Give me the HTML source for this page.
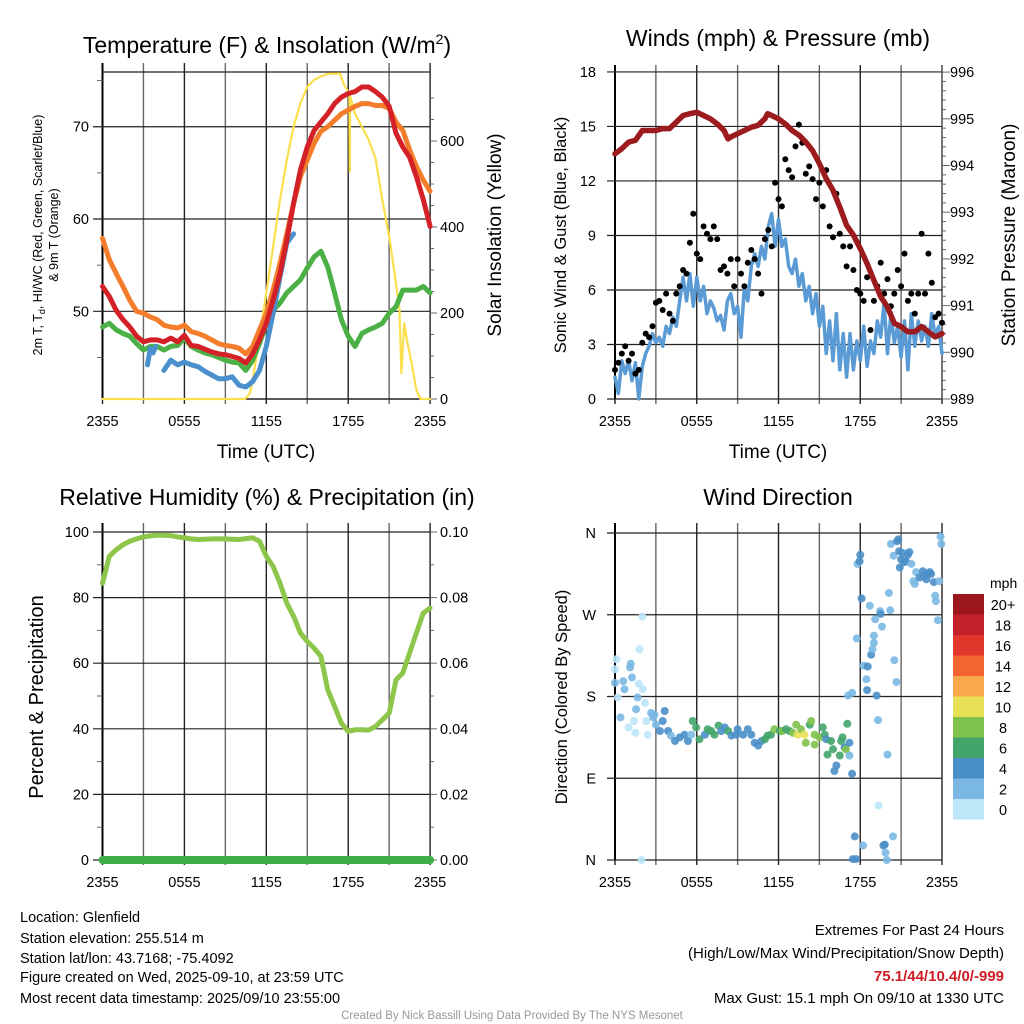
<!DOCTYPE html>
<html><head><meta charset="utf-8"><style>
html,body{margin:0;padding:0;background:#fff}
svg{display:block}
text{font-family:"Liberation Sans",Arial,sans-serif;fill:#000}
</style></head><body>
<svg id="chart" width="1024" height="1024" viewBox="0 0 1024 1024" xmlns="http://www.w3.org/2000/svg">
<rect width="1024" height="1024" fill="#fff"/>
<g id="grid"></g>
<g id="marks"></g>
<g id="labels"></g>

<text x="267" y="53" font-size="23" text-anchor="middle">Temperature (F) &amp; Insolation (W/m<tspan dy="-9" font-size="14">2</tspan><tspan dy="9">)</tspan></text>
<text x="778" y="46" font-size="23" text-anchor="middle">Winds (mph) &amp; Pressure (mb)</text>
<text x="267" y="505" font-size="23" text-anchor="middle">Relative Humidity (%) &amp; Precipitation (in)</text>
<text x="778" y="505" font-size="23" text-anchor="middle">Wind Direction</text>

<text transform="translate(42,235) rotate(-90)" font-size="12.5" text-anchor="middle">2m T, T<tspan font-size="9" dy="3">d</tspan><tspan dy="-3">, HI/WC (Red, Green, Scarlet/Blue)</tspan></text>
<text transform="translate(58,235) rotate(-90)" font-size="12.5" text-anchor="middle">&amp; 9m T (Orange)</text>
<text transform="translate(501,235) rotate(-90)" font-size="19" text-anchor="middle">Solar Insolation (Yellow)</text>
<text transform="translate(566,235) rotate(-90)" font-size="16.5" text-anchor="middle">Sonic Wind &amp; Gust (Blue, Black)</text>
<text transform="translate(1015,235) rotate(-90)" font-size="19" text-anchor="middle">Station Pressure (Maroon)</text>
<text transform="translate(43,697) rotate(-90)" font-size="20" text-anchor="middle">Percent &amp; Precipitation</text>
<text transform="translate(567,697) rotate(-90)" font-size="16.5" text-anchor="middle">Direction (Colored By Speed)</text>
<text x="266" y="458" font-size="19" text-anchor="middle">Time (UTC)</text>
<text x="778" y="458" font-size="19" text-anchor="middle">Time (UTC)</text>

<text x="20" y="922" font-size="14.5">Location: Glenfield</text>
<text x="20" y="943" font-size="14.5">Station elevation: 255.514 m</text>
<text x="20" y="963" font-size="14.5">Station lat/lon: 43.7168; -75.4092</text>
<text x="20" y="982" font-size="14.5">Figure created on Wed, 2025-09-10, at 23:59 UTC</text>
<text x="20" y="1003" font-size="14.5">Most recent data timestamp: 2025/09/10 23:55:00</text>
<text x="1004" y="935" font-size="15" text-anchor="end">Extremes For Past 24 Hours</text>
<text x="1004" y="958" font-size="15" text-anchor="end">(High/Low/Max Wind/Precipitation/Snow Depth)</text>
<text x="1004" y="981" font-size="15" font-weight="bold" text-anchor="end" style="fill:#d01c24">75.1/44/10.4/0/-999</text>
<text x="1004" y="1003" font-size="15" text-anchor="end">Max Gust: 15.1 mph On 09/10 at 1330 UTC</text>
<text x="512" y="1019" font-size="11.5" text-anchor="middle" style="fill:#999">Created By Nick Bassill Using Data Provided By The NYS Mesonet</text>
<text x="990" y="588" font-size="14">mph</text>
</svg>
<script>
// ---------- data ----------
const halfHours = [0,0.5,1,1.5,2,2.5,3,3.5,4,4.5,5,5.5,6,6.5,7,7.5,8,8.5,9,9.5,10,10.5,11,11.5,12,12.5,13,13.5,14,14.5,15,15.5,16,16.5,17,17.5,18,18.5,19,19.5,20,20.5,21,21.5,22,22.5,23,23.5,24];
const temp2m = [52.7,51.6,50.1,49.1,48.3,47.3,46.7,46.9,46.9,46.7,47.1,46.7,47.4,46.3,46.2,45.9,45.6,45.4,45.3,45.1,44.9,44.4,45.4,46.9,48.7,51.2,54.1,57.7,61.7,65.3,67.8,69.6,70.5,71.4,72.5,73.2,73.6,73.8,74.3,74.3,73.8,73.2,72.2,69.3,67.8,66.7,64.6,62.1,59.2];
const temp9m = [57.9,55.6,54.1,52.7,51.2,50,49.8,49.4,49.1,48.5,48.3,48.2,48.5,47.8,47.6,47.3,46.9,46.5,46.3,46.2,46,45.4,46.2,48,49.8,52.3,55.2,58.4,61.7,64.6,66.4,68.2,69.5,70,70.7,71.4,71.8,72.2,72.5,72.5,72.3,72.3,72,70.5,69.6,67.5,65.7,64.2,63];
const dewPoint = [48.3,48.7,48,47.6,47.3,46.5,45.8,46.2,46.2,45.8,46.2,46.3,47.1,46.2,45.8,45.5,45.3,45,44.7,44.5,44.4,43.6,44.7,46.5,48.7,50.1,50.9,52,52.7,53.4,54.7,55.9,56.5,54.8,52,49.1,47.3,46.2,47.6,48,48.3,48.7,49.8,50.5,52.3,52.3,52.3,52.7,52];
const chillHours = [3.3,3.5,3.7,3.9,4.1,4.5,5,5.5,6,6.5,7,7.5,8,8.5,9,9.5,10,10.5,11,11.5,12,12.5,13,13.5,14];
const windChill = [44.2,46,45.5,46.2,null,43.6,44.7,44.2,44.5,44.2,44,43.5,43.1,42.7,42.7,42.9,42,41.8,42.4,43.6,46.2,49.8,53.7,57.4,58.4];
const solarHours = [0,10.44,10.8,11,11.5,12,12.5,13,13.5,14,14.5,15,15.5,16,16.5,17.4,17.7,18,18.08,18.12,18.15,18.5,19,19.5,20,20.5,21,21.5,21.75,21.9,22.1,22.3,22.6,23,23.3,24];
const solar = [0,0,13,44,145,246,354,463,556,633,688,726,742,750,756,757,730,715,715,529,703,664,633,602,560,463,378,269,211,60,176,137,91,21,0,0];
const pressHours = [0,0.5,1,1.5,2,2.5,3,3.5,4,4.5,5,5.5,6,6.5,7,7.5,8,8.3,8.5,9,9.5,10,10.5,11,11.2,11.5,12,12.5,13,13.5,14,14.5,15,15.5,16,16.5,17,17.5,18,18.5,19,19.5,20,20.5,21,21.5,22,22.5,23,23.5,24];
const pressure = [994.25,994.36,994.5,994.54,994.75,994.75,994.75,994.79,994.79,994.93,995.07,995.11,995.14,995.07,995.0,994.89,994.75,994.57,994.61,994.68,994.75,994.82,994.86,995.0,995.11,995.07,995.0,994.89,994.75,994.65,994.5,994.32,994.04,993.72,993.47,993.11,992.72,992.51,992.22,991.9,991.54,991.19,990.97,990.62,990.55,990.44,990.44,990.55,990.44,990.33,990.4];
const windSpeed = [1.2,0.3,2.1,1.4, 2.1,1.0,2.0,0.0, 1.8,2.5,2.9,3.6, 3.1,3.4,2.9,4.0, 3.6,4.5,4.0,5.4, 6.7,5.4,6.9,5.1, 6.7,5.4,6.2,4.7, 5.4,5.0,4.3,4.6, 3.8,5.4,5.8,4.7, 5.1,3.4,6.2,5.4, 7.3,8.0,7.3,8.4, 7.7,9.5,10.2,8.4, 9.9,8.4,8.8,7.3, 6.9,7.7,6.2,6.9, 5.4,6.2,4.7,5.8, 4.0,5.1,2.5,4.3, 2.1,4.7,1.6,3.6, 1.2,3.6,1.6,3.2, 2.1,4.0,1.8,3.2, 2.5,4.3,3.4,5.3, 2.5,4.7,3.1,4.0, 2.3,4.3,1.6,4.7, 2.9,4.3,3.2,4.0, 2.9,4.7,3.4,4.0, 2.5];
const windGust = [1.6,2.0,2.5,2.9, 2.1,2.5,1.4,1.6, 3.1,3.6,3.4,4.0, 5.3,5.4,4.9,5.8, 4.7,4.3,5.8,6.2, 7.1,6.9,8.6,10.2, 8.0,7.7,9.5,9.1, 8.8,9.5,8.8,7.1, 7.3,6.9,7.7,6.2, 7.7,6.9,6.2,7.5, 8.2,7.7,6.9,5.8, 8.8,9.3,8.4,11.9, 11.0,10.6,13.2,12.6, 12.2,13.9,15.1,14.1, 12.4,12.8,12.1,11.0, 11.9,10.6,12.6,9.5, 8.9,11.3,9.1,8.4, 7.3,8.4,7.1,6.0, 5.8,5.4,6.7,3.8, 5.4,6.2,7.5,5.8, 6.6,5.1,5.8,7.1, 6.2,8.0,5.4,5.8, 4.7,5.8,9.1,5.8, 8.0,6.4,4.5,4.7, 4.2];
const humidity = [84.4,92.6,94.6,96.1,97.2,97.9,98.5,98.8,99,99,98.9,98.5,98.2,97.9,97.7,97.8,97.9,97.9,97.9,97.8,97.7,98,98.2,97.2,92.6,89.5,84.4,78.3,74.3,69.2,66.6,64.6,62.1,51.9,46.8,41.7,39.2,39.7,39.7,39.6,40.7,42.7,44.8,54.9,57,63.1,69.2,75.3,76.8];
const precip = [0,0,0,0,0,0,0,0,0,0,0,0,0,0,0,0,0,0,0,0,0,0,0,0,0,0,0,0,0,0,0,0,0,0,0,0,0,0,0,0,0,0,0,0,0,0,0,0,0];
const dirHours = [0.0,0.0,0.1,0.2,0.4,0.6,0.7,1.0,1.1,1.15,1.25,1.4,1.5,1.55,1.65,1.75,1.8,2.0,2.05,2.2,2.3,2.4,2.65,2.8,2.9,3.0,3.3,3.5,3.65,3.9,4.1,4.4,4.75,5.1,5.35,5.6,5.7,5.95,6.2,6.6,6.8,7.05,7.3,7.6,7.8,8.05,8.3,8.55,8.9,9.0,9.4,9.75,10.0,10.25,10.5,10.75,11.0,11.2,11.45,11.7,12.1,12.3,12.55,12.8,13.05,13.3,13.4,13.65,13.9,14.0,14.3,14.4,14.65,14.65,15.0,15.25,15.4,15.5,15.6,15.85,16.0,16.1,16.25,16.5,16.6,16.7,16.85,16.95,17.05,17.2,17.2,17.4,17.1,17.4,17.75,17.8,17.95,18.0,18.1,18.25,18.45,18.55,18.5,18.7,18.8,18.9,19.0,19.0,19.1,19.2,19.3,19.35,19.45,19.5,19.6,17.45,17.6,17.7,18.2,19.7,19.8,19.85,19.95,20.0,20.1,20.2,20.25,20.4,20.45,20.5,20.65,20.7,20.8,20.85,20.9,21.0,21.1,21.25,21.35,21.5,21.6,21.75,21.9,22.0,22.1,22.35,22.6,22.7,22.85,22.95,23.1,23.2,23.4,23.5,23.55,23.7,23.8,23.9,23.95,1.95];
const dirDeg = [195,210,221,179,157,197,188,146,212,216,201,153,140,166,179,194,232,268,188,173,153,138,162,157,160,149,142,153,164,142,137,131,135,138,131,138,153,146,133,138,144,142,138,148,142,146,142,137,138,144,138,144,138,129,126,131,133,137,138,144,142,142,144,142,140,149,138,144,138,129,149,153,138,127,135,146,138,133,116,131,122,98,104,115,131,135,124,122,150,129,115,95,181,184,244,326,329,336,288,214,199,213,187,280,226,232,247,239,265,181,154,60,274,271,257,1,26,1,16,16,17,8,0,116,294,275,348,26,335,220,196,351,353,340,322,331,338,328,329,336,339,326,307,304,317,311,318,313,309,315,317,315,306,291,285,264,307,356,348,0];
const dirSpeed = [3,1,1,1,3,3,3,1,3,3,3,1,1,3,3,1,1,1,1,1,1,1,3,3,3,3,5,5,5,5,3,5,5,5,5,3,7,7,7,5,7,7,7,7,5,5,7,5,5,5,5,5,5,5,5,5,7,7,7,9,7,9,7,7,9,9,10.5,9,10.5,9,7,9,9,9,9,7,7,5,7,7,7,5,5,7,7,7,5,9,7,5,3,5,3,3,3,3,5,5,5,3,3,5,5,3,5,3,3,3,3,5,3,1,3,5,3,5,5,5,3,5,5,3,3,3,3,3,3,3,3,3,3,5,5,5,5,5,5,5,5,5,5,3,3,3,3,5,5,5,5,5,5,5,5,3,3,3,3,3,3,1];
const cbLabels = ["20+","18","16","14","12","10","8","6","4","2","0"];
const cbColors = ["#9b171c","#c3202a","#e0362b","#f26530","#f9a84a","#e8e157","#7fc24b","#42a56c","#4a8fc8","#7ab8e3","#bde6f9"];
const tempTicks = [50,60,70];
const solarTicks = [0,200,400,600];
const windTicks = [0,3,6,9,12,15,18];
const pressTicks = [989,990,991,992,993,994,995,996];
const rhTicks = [0,20,40,60,80,100];
const precipTicks = ["0.00","0.02","0.04","0.06","0.08","0.10"];
const dirTicks = [0,90,180,270,360];
const dirTickLabels = ["N","E","S","W","N"];
const timeTicks = [0,6,12,18,24];
const timeLabels = ["2355","0555","1155","1755","2355"];

// ---------- axes ----------
const p1x = h => 102.5 + h*13.65;
const p1T = t => 399 - (t-40.5)*9.23;
const p1S = s => 399 - s*0.43;
const p2x = h => 615 + h*13.625;
const p2W = v => 399 - v*18.17;
const p2P = p => 399 - (p-989)*46.7;
const p3R = r => 860 - r*3.28;
const p3P = p => 860 - p*3280;
const p4D = d => 860 - d*0.9083;

const NS = "http://www.w3.org/2000/svg";
const grid = document.getElementById('grid');
const marks = document.getElementById('marks');
const labels = document.getElementById('labels');
function mk(tag, attrs, parent){
  const el = document.createElementNS(NS, tag);
  for (const k in attrs) el.setAttribute(k, attrs[k]);
  parent.appendChild(el);
  return el;
}
function seg(x1,y1,x2,y2,color,w,name){
  const el = mk('line',{x1:x1,y1:y1,x2:x2,y2:y2,stroke:color,'stroke-width':w},grid);
  
  
  return el;
}
function lbl(x,y,s,anchor,size,name){
  const el = mk('text',{x:x,y:y,'text-anchor':anchor,'font-size':size},labels);
  el.textContent = s;
  
  
  return el;
}
function series(xs, ys, fx, fy, color, w, name){
  let d = '', pen = false;
  for (let i=0;i<xs.length;i++){
    if (ys[i]===null){pen=false;continue;}
    d += (pen?'L':'M') + fx(xs[i]).toFixed(1) + ',' + fy(ys[i]).toFixed(1);
    pen = true;
  }
  const el = mk('path',{d:d,fill:'none',stroke:color,'stroke-width':w,'stroke-linejoin':'round','stroke-linecap':'round'},marks);
  
  
  return el;
}
const G1='#222', G2='#666';

const panels = [
  {fx:p1x, top:63, bot:399},
  {fx:p2x, top:65, bot:399},
  {fx:p1x, top:523, bot:860},
  {fx:p2x, top:523, bot:860}
];
panels.forEach((p,pi)=>{
  for (let h=0; h<=24; h+=3){
    seg(p.fx(h), p.top, p.fx(h), p.bot+5, (h%6===0)?G1:G2, 1.4, 'vgrid-line');
  }
  timeTicks.forEach((t,i)=>{
    lbl(p.fx(t), p.bot+27, timeLabels[i], 'middle', 14.5, 'x-tick-label');
  });
});
seg(102.5,63,102.5,399,'#000',2,'temperature-left-spine');
seg(102.5,72,430,72,G1,1.2,'temperature-top-line');
seg(102.5,399,430,399,G1,1.4,'temperature-bottom-line');
tempTicks.forEach(t=>{ seg(93,p1T(t),430,p1T(t),G1,1.2,'temperature-hgrid'); lbl(89,p1T(t)+5,String(t),'end',14.5,'temperature-tick-label'); });
[45,55,65,75].forEach(t=>seg(97,p1T(t),102.5,p1T(t),G2,1,'temperature-minor-tick'));
for (let s=0;s<=700;s+=50){ seg(430,p1S(s),(s%200===0)?437:434,p1S(s),G2,1,'solar-tick'); }
solarTicks.forEach(s=>lbl(440,p1S(s)+5,String(s),'start',14.5,'solar-tick-label'));

seg(615,65,615,399,'#000',2,'wind-left-spine');
seg(942,65,942,399,G2,1.4,'wind-right-spine');
windTicks.forEach(v=>{ seg(607,p2W(v),942,p2W(v),G1,1.2,'wind-hgrid'); lbl(596,p2W(v)+5,String(v),'end',14.5,'wind-tick-label'); });
for (let p=989;p<=996.01;p+=0.2){ const major=Math.abs(p-Math.round(p))<0.01; seg(942,p2P(p),major?950:946,p2P(p),G2,1,'pressure-tick'); }
pressTicks.forEach(p=>lbl(950,p2P(p)+5,String(p),'start',14.5,'pressure-tick-label'));

seg(102.5,523,102.5,860,'#000',2,'humidity-left-spine');
rhTicks.forEach(r=>{ seg(93,p3R(r),431,p3R(r),G1,1.2,'humidity-hgrid'); lbl(89,p3R(r)+5,String(r),'end',14.5,'humidity-tick-label'); });
for (let r=10;r<=90;r+=20) seg(97,p3R(r),102.5,p3R(r),G2,1,'humidity-minor-tick');
for (let r=0;r<=100;r+=10) seg(430,p3R(r),r%20===0?437:434,p3R(r),G2,1,'precip-tick');
precipTicks.forEach((s,i)=>lbl(440,p3R(i*20)+5,s,'start',14.5,'precip-tick-label'));

seg(615,523,615,860,'#000',2,'direction-left-spine');
dirTicks.forEach((d,i)=>{ seg(607,p4D(d),942,p4D(d),G1,1.2,'direction-hgrid'); lbl(596,p4D(d)+5,dirTickLabels[i],'end',14.5,'direction-tick-label'); });

// panel 1 series
series(solarHours, solar, p1x, p1S, '#fbdf4c', 2.2, 'solar-insolation-line');
series(halfHours, temp9m, p1x, p1T, '#f47d2c', 5, 'temp-9m-line');
series(halfHours, dewPoint, p1x, p1T, '#4bb045', 5, 'dewpoint-line');
series(chillHours, windChill, p1x, p1T, '#4a90cd', 5, 'windchill-line');
series(halfHours, temp2m, p1x, p1T, '#d42027', 5, 'temp-2m-line');

// panel 2
const qHours = windSpeed.map((_,i)=>i*0.25);
series(qHours, windSpeed, p2x, p2W, '#5b9bd5', 3.5, 'sonic-wind-line');
windGust.forEach((g,i)=>{
  const c = mk('circle',{cx:p2x(qHours[i]).toFixed(1),cy:p2W(g).toFixed(1),r:3,fill:'#000'},marks);
  
  
});
series(pressHours, pressure, p2x, p2P, '#9b1b1e', 5.5, 'pressure-line');

// panel 3
series(halfHours, humidity, p1x, p3R, '#8dc64b', 5, 'humidity-line');
series(halfHours, precip, p1x, p3P, '#3fae49', 8, 'precipitation-line');

// panel 4
function speedColor(s){ const k = Math.min(10, Math.floor(s/2)); return cbColors[10-k]; }
dirHours.forEach((h,i)=>{
  const c = mk('circle',{cx:p2x(h).toFixed(1),cy:p4D(dirDeg[i]).toFixed(1),r:4,fill:speedColor(dirSpeed[i]),'fill-opacity':0.9},marks);
  
  
});

// colorbar
cbLabels.forEach((s,i)=>{
  const r = mk('rect',{x:953,y:594+i*20.5,width:31,height:20.6,fill:cbColors[i]},labels);
  
  
  lbl(1003,594+i*20.5+16,s,'middle',14.5,'colorbar-label');
});
</script>
</body></html>
